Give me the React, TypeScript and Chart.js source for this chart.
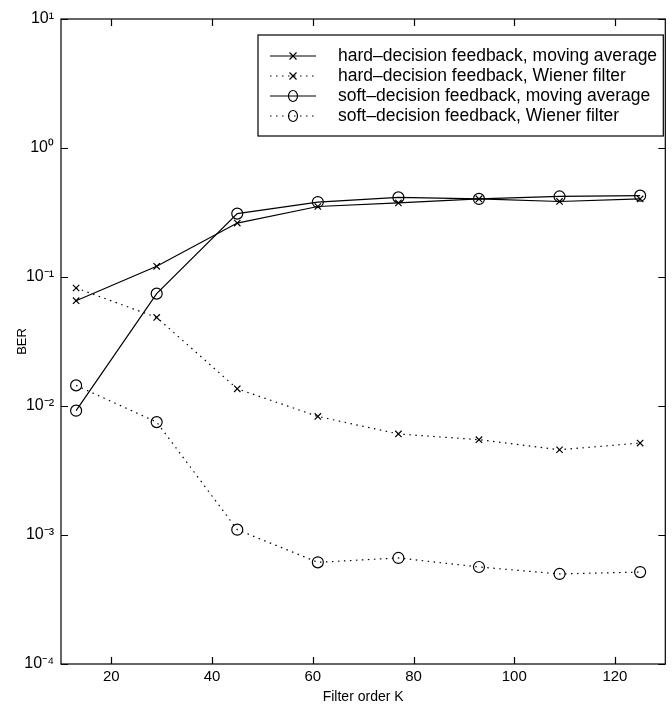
import React, { useEffect, useRef } from 'react';
import { Chart, registerables } from 'chart.js';

Chart.register(...registerables);

const FILTER_ORDER = [13, 29, 45, 61, 77, 93, 109, 125];
const HARD_MA = [0.0655, 0.121, 0.262, 0.352, 0.375, 0.403, 0.385, 0.403];
const HARD_WIENER = [0.0822, 0.0486, 0.0136, 0.0083, 0.00607, 0.00548, 0.00458, 0.00516];
const SOFT_MA = [0.0092, 0.0743, 0.31, 0.381, 0.414, 0.403, 0.421, 0.427];
const SOFT_WIENER = [0.01445, 0.0075, 0.0011, 0.000614, 0.000664, 0.000565, 0.000499, 0.000516];

const SERIES_LABELS = [
  'hard\u2013decision feedback, moving average',
  'hard\u2013decision feedback, Wiener filter',
  'soft\u2013decision feedback, moving average',
  'soft\u2013decision feedback, Wiener filter',
];

const X_TICKS = [20, 40, 60, 80, 100, 120];
const Y_TICKS = [1e-4, 1e-3, 1e-2, 1e-1, 1, 10];
const Y_TICK_LABELS = ['10\u207B\u2074', '10\u207B\u00B3', '10\u207B\u00B2', '10\u207B\u00B9', '10\u2070', '10\u00B9'];

const FONT = 'Liberation Sans, Arial, Helvetica, sans-serif';
const DOT_DASH = [1.5, 4.5];

function drawMarker(ctx: CanvasRenderingContext2D, style: string, x: number, y: number) {
  ctx.beginPath();
  if (style === 'crossRot') {
    const r = 3.5;
    ctx.moveTo(x - r, y - r);
    ctx.lineTo(x + r, y + r);
    ctx.moveTo(x + r, y - r);
    ctx.lineTo(x - r, y + r);
  } else {
    ctx.ellipse(x, y, 4.5, 5.5, 0, 0, Math.PI * 2);
  }
  ctx.stroke();
}

const framePlugin = {
  id: 'frame',
  afterDatasetsDraw(chart: any) {
    const { ctx, chartArea, scales } = chart;
    const { left, right, top, bottom } = chartArea;
    const x = scales.x;
    const y = scales.y;
    ctx.save();
    ctx.strokeStyle = '#000';
    ctx.lineWidth = 1.2;
    ctx.setLineDash([]);
    ctx.strokeRect(left, top, right - left, bottom - top);
    const L = 7;
    ctx.beginPath();
    X_TICKS.forEach((v) => {
      const px = Math.round(x.getPixelForValue(v)) + 0.5;
      ctx.moveTo(px, bottom);
      ctx.lineTo(px, bottom - L);
      ctx.moveTo(px, top);
      ctx.lineTo(px, top + L);
    });
    Y_TICKS.forEach((v) => {
      const py = Math.round(y.getPixelForValue(v)) + 0.5;
      ctx.moveTo(left, py);
      ctx.lineTo(left + L, py);
      ctx.moveTo(right, py);
      ctx.lineTo(right - L, py);
    });
    ctx.stroke();
    ctx.restore();
  },
};

const legendPlugin = {
  id: 'boxLegend',
  afterDraw(chart: any) {
    const { ctx, chartArea } = chart;
    const bx = 258;
    const by = chartArea.top + 16;
    const bw = chartArea.right - 2 - bx;
    const bh = 101;
    ctx.save();
    ctx.fillStyle = '#fff';
    ctx.fillRect(bx, by, bw, bh);
    ctx.strokeStyle = '#000';
    ctx.lineWidth = 1.2;
    ctx.strokeRect(bx, by, bw, bh);
    chart.data.datasets.forEach((ds: any, i: number) => {
      const ry = by + 21 + i * 20;
      ctx.strokeStyle = '#000';
      ctx.lineWidth = 1.2;
      ctx.setLineDash(ds.borderDash || []);
      ctx.beginPath();
      ctx.moveTo(bx + 12, ry);
      ctx.lineTo(bx + 58, ry);
      ctx.stroke();
      ctx.setLineDash([]);
      drawMarker(ctx, ds.pointStyle, bx + 35, ry);
      ctx.fillStyle = '#000';
      ctx.font = `17.5px ${FONT}`;
      ctx.textAlign = 'left';
      ctx.textBaseline = 'middle';
      ctx.fillText(ds.label, bx + 80, ry);
    });
    ctx.restore();
  },
};

export default function App() {
  const canvasRef = useRef<HTMLCanvasElement | null>(null);

  useEffect(() => {
    const canvas = canvasRef.current;
    if (!canvas) return;
    const mk = (label: string, data: number[], style: string, dotted: boolean) => ({
      label,
      data: FILTER_ORDER.map((k, i) => ({ x: k, y: data[i] })),
      borderColor: '#000',
      backgroundColor: 'transparent',
      borderWidth: 1.2,
      borderDash: dotted ? DOT_DASH : [],
      pointStyle: style,
      pointRadius: style === 'circle' ? 5.5 : 4.5,
      pointBorderWidth: 1.2,
      pointBorderColor: '#000',
      pointBackgroundColor: 'transparent',
      tension: 0,
      fill: false,
    });
    const chart = new Chart(canvas, {
      type: 'line',
      data: {
        datasets: [
          mk(SERIES_LABELS[0], HARD_MA, 'crossRot', false),
          mk(SERIES_LABELS[1], HARD_WIENER, 'crossRot', true),
          mk(SERIES_LABELS[2], SOFT_MA, 'circle', false),
          mk(SERIES_LABELS[3], SOFT_WIENER, 'circle', true),
        ] as any,
      },
      options: {
        responsive: false,
        maintainAspectRatio: false,
        animation: false,
        layout: { padding: { top: 19, right: 4, left: 0, bottom: 0 } },
        plugins: {
          legend: { display: false },
          tooltip: { enabled: false },
        },
        scales: {
          x: {
            type: 'linear',
            min: 10,
            max: 130,
            afterBuildTicks: (s: any) => {
              s.ticks = X_TICKS.map((value) => ({ value }));
            },
            afterFit: (s: any) => {
              s.height = 48;
            },
            grid: { display: false, drawTicks: false },
            border: { display: false },
            ticks: {
              color: '#000',
              font: { family: FONT, size: 15 },
              padding: 4,
              maxRotation: 0,
              callback: (v: any) => String(v),
            },
            title: {
              display: true,
              text: 'Filter order K',
              color: '#000',
              font: { family: FONT, size: 14 },
              padding: { top: 0, bottom: 6 },
            },
          },
          y: {
            type: 'logarithmic',
            min: 1e-4,
            max: 10,
            afterBuildTicks: (s: any) => {
              s.ticks = Y_TICKS.map((value) => ({ value, major: true }));
            },
            afterFit: (s: any) => {
              s.width = 61;
            },
            grid: { display: false, drawTicks: false },
            border: { display: false },
            ticks: {
              color: '#000',
              font: { family: FONT, size: 16 },
              padding: 7,
              callback: (_v: any, i: number) => Y_TICK_LABELS[i],
            },
            title: {
              display: true,
              text: 'BER',
              color: '#000',
              font: { family: FONT, size: 13 },
              padding: { top: 15, bottom: 0 },
            },
          },
        },
      } as any,
      plugins: [framePlugin, legendPlugin],
    });
    return () => chart.destroy();
  }, []);

  return (
    <div style={{ position: 'absolute', left: 0, top: 0, width: 672, height: 712, background: '#fff' }}>
      <canvas ref={canvasRef} width={672} height={712} style={{ display: 'block' }} />
    </div>
  );
}
